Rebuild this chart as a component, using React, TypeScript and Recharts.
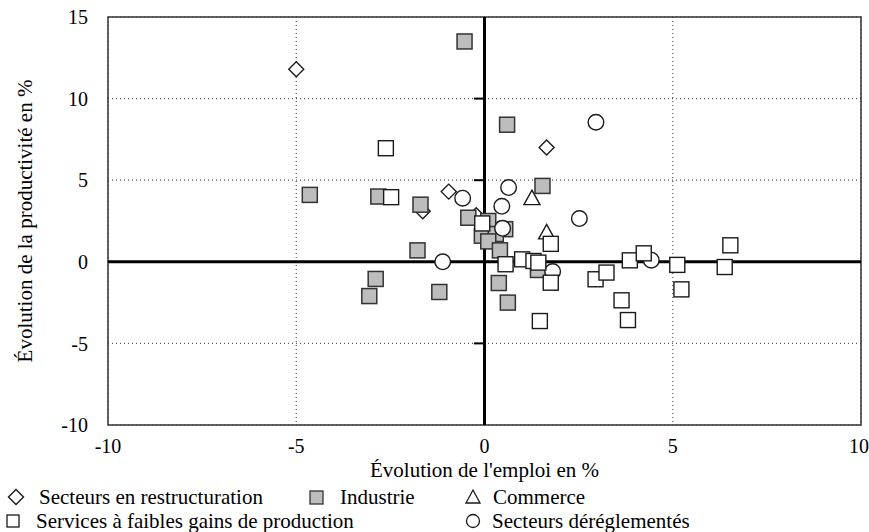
import React from 'react';
import {
  ScatterChart,
  Scatter,
  XAxis,
  YAxis,
  CartesianGrid,
  ReferenceLine,
  ReferenceArea,
} from 'recharts';

// values (employment change %, productivity change %)
const restructuration = [
  { x: -5.0, y: 11.8 },
  { x: 1.65, y: 7.0 },
  { x: -0.95, y: 4.3 },
  { x: -1.64, y: 3.1 },
  { x: -0.22, y: 2.85 },
];

const industrie = [
  { x: -0.53, y: 13.5 },
  { x: 0.6, y: 8.4 },
  { x: -4.64, y: 4.1 },
  { x: -2.82, y: 4.0 },
  { x: -1.7, y: 3.5 },
  { x: 1.54, y: 4.65 },
  { x: -0.43, y: 2.7 },
  { x: 0.1, y: 2.5 },
  { x: 0.55, y: 2.0 },
  { x: -0.07, y: 1.6 },
  { x: 0.3, y: 1.7 },
  { x: 0.1, y: 1.25 },
  { x: 0.41, y: 0.7 },
  { x: -1.78, y: 0.7 },
  { x: 1.42, y: -0.5 },
  { x: 0.38, y: -1.3 },
  { x: 0.62, y: -2.5 },
  { x: -2.89, y: -1.05 },
  { x: -3.06, y: -2.1 },
  { x: -1.2, y: -1.85 },
];

const commerce = [
  { x: 1.26, y: 3.9 },
  { x: 1.65, y: 1.8 },
];

const dereglementes = [
  { x: 2.96, y: 8.55 },
  { x: 0.64, y: 4.55 },
  { x: -0.58, y: 3.9 },
  { x: 0.46, y: 3.4 },
  { x: 2.52, y: 2.65 },
  { x: 0.48, y: 2.05 },
  { x: -1.11, y: 0.0 },
  { x: 1.81, y: -0.6 },
  { x: 4.43, y: 0.1 },
];

const services = [
  { x: -2.62, y: 6.96 },
  { x: -2.48, y: 3.96 },
  { x: -0.06, y: 2.35 },
  { x: 1.76, y: 1.1 },
  { x: 0.56, y: -0.15 },
  { x: 1.0, y: 0.15 },
  { x: 1.3, y: 0.05 },
  { x: 1.43, y: -0.05 },
  { x: 1.76, y: -1.28 },
  { x: 2.95, y: -1.07 },
  { x: 3.24, y: -0.66 },
  { x: 3.86, y: 0.09 },
  { x: 4.23, y: 0.52 },
  { x: 3.64, y: -2.36 },
  { x: 3.81, y: -3.57 },
  { x: 1.47, y: -3.63 },
  { x: 5.12, y: -0.19 },
  { x: 5.23, y: -1.69 },
  { x: 6.38, y: -0.32 },
  { x: 6.53, y: 1.01 },
];

const xTicks = [-10, -5, 0, 5, 10];
const yTicks = [-10, -5, 0, 5, 10, 15];
const zeroAxisTicks = [-5, 5, 10];

const FONT = "'Liberation Serif', 'Times New Roman', Times, 'DejaVu Serif', 'Noto Serif', serif";
const GRAY = '#bdbdbd';
const INK = '#1a1a1a';

const Diamond = ({ cx, cy }: any) => (
  <polygon
    points={`${cx},${cy - 7.5} ${cx + 7.5},${cy} ${cx},${cy + 7.5} ${cx - 7.5},${cy}`}
    fill="#fff"
    stroke={INK}
    strokeWidth={1.4}
  />
);

const GraySquare = ({ cx, cy }: any) => (
  <rect x={cx - 7.5} y={cy - 7.5} width={15} height={15} fill={GRAY} stroke="#333" strokeWidth={1.5} />
);

const WhiteSquare = ({ cx, cy }: any) => (
  <rect x={cx - 7.5} y={cy - 7.5} width={15} height={15} fill="#fff" stroke={INK} strokeWidth={1.4} />
);

const Triangle = ({ cx, cy }: any) => (
  <polygon
    points={`${cx},${cy - 8} ${cx + 8},${cy + 6.5} ${cx - 8},${cy + 6.5}`}
    fill="#fff"
    stroke={INK}
    strokeWidth={1.4}
  />
);

const Ring = ({ cx, cy }: any) => (
  <circle cx={cx} cy={cy} r={7.8} fill="#fff" stroke={INK} strokeWidth={1.4} />
);

const textStyle = { fontFamily: FONT };

const yTitle = (props: any) => {
  const vb = props.viewBox;
  const cy = vb.y + vb.height / 2;
  return (
    <text
      x={32}
      y={cy}
      transform={`rotate(-90 32 ${cy})`}
      textAnchor="middle"
      style={textStyle}
      fontSize={21}
      fill="#000"
    >
      Évolution de la productivité en %
    </text>
  );
};

const xTitle = (props: any) => {
  const vb = props.viewBox;
  return (
    <text x={vb.x + vb.width / 2} y={477} textAnchor="middle" style={textStyle} fontSize={21} fill="#000">
      Évolution de l'emploi en %
    </text>
  );
};

function LegendBox() {
  const text = { style: textStyle, fontSize: 21, fill: '#000' };
  return (
    <svg width={869} height={52} style={{ position: 'absolute', left: 0, top: 480 }}>
      <Diamond cx={16} cy={17} />
      <text x={39} y={24} {...text}>Secteurs en restructuration</text>
      <rect x={310} y={11} width={13} height={13} fill={GRAY} stroke="#333" strokeWidth={1.3} />
      <text x={340} y={24} {...text}>Industrie</text>
      <polygon points="473,10 480,23 466,23" fill="#fff" stroke={INK} strokeWidth={1.3} />
      <text x={493} y={24} {...text}>Commerce</text>
      <rect x={7} y={35} width={12} height={12} fill="#fff" stroke={INK} strokeWidth={1.3} />
      <text x={36} y={48} {...text}>Services à faibles gains de production</text>
      <circle cx={473} cy={41} r={6.5} fill="#fff" stroke={INK} strokeWidth={1.3} />
      <text x={492} y={48} {...text}>Secteurs déréglementés</text>
    </svg>
  );
}

export default function App() {
  const tickStyle = { fontFamily: FONT, style: textStyle, fontSize: 20, fill: '#000' };
  return (
    <div
      style={{
        position: 'absolute',
        left: 0,
        top: 0,
        width: 869,
        height: 532,
        background: '#fff',
        fontFamily: FONT,
      }}
    >
      <ScatterChart width={869} height={532} margin={{ top: 17, right: 8, bottom: 0, left: 0 }}>
        <CartesianGrid stroke="#555" strokeDasharray="1 3" strokeWidth={1.2} />
        <XAxis
          type="number"
          dataKey="x"
          domain={[-10, 10]}
          ticks={xTicks}
          axisLine={false}
          tickLine={false}
          tickMargin={8}
          height={107}
          tick={tickStyle}
          label={xTitle}
        />
        <YAxis
          type="number"
          dataKey="y"
          domain={[-10, 15]}
          ticks={yTicks}
          axisLine={false}
          tickLine={false}
          tickMargin={14}
          width={108}
          tick={tickStyle}
          label={yTitle}
        />
        <ReferenceArea x1={-10} x2={10} y1={-10} y2={15} fill="none" stroke="#333" strokeWidth={1.5} />
        <ReferenceLine x={0} stroke="#000" strokeWidth={3} />
        <ReferenceLine y={0} stroke="#000" strokeWidth={3} />
        {zeroAxisTicks.map((v) => (
          <ReferenceLine
            key={v}
            segment={[
              { x: -0.28, y: v },
              { x: 0, y: v },
            ]}
            stroke="#000"
            strokeWidth={2}
          />
        ))}
        <Scatter data={restructuration} shape={Diamond} isAnimationActive={false} />
        <Scatter data={industrie} shape={GraySquare} isAnimationActive={false} />
        <Scatter data={commerce} shape={Triangle} isAnimationActive={false} />
        <Scatter data={dereglementes} shape={Ring} isAnimationActive={false} />
        <Scatter data={services} shape={WhiteSquare} isAnimationActive={false} />
      </ScatterChart>
      <LegendBox />
    </div>
  );
}
